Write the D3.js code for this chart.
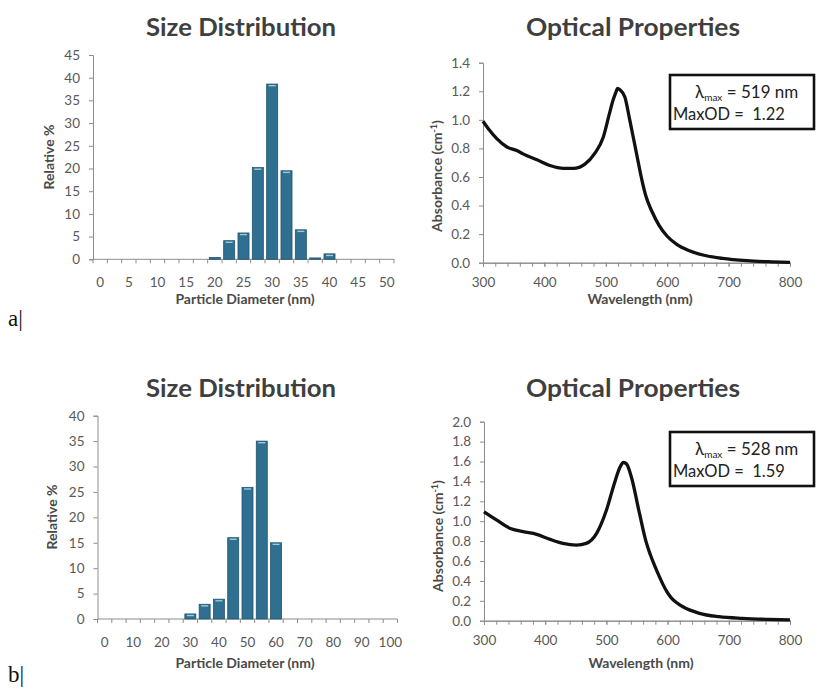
<!DOCTYPE html>
<html>
<head>
<meta charset="utf-8">
<script src="https://cdn.jsdelivr.net/npm/d3@7/dist/d3.min.js"></script>
<style>
  html, body { margin: 0; padding: 0; background: #fff; }
  svg { display: block; }
  .tick text { font-family: Lato, "Open Sans", sans-serif; fill: #595959; }
</style>
</head>
<body>
<svg id="fig" width="817" height="688"></svg>
<script>
// ---- Sample a: size histogram (2.5 nm bins) ----
const sizeBinsA = [0, 2.5, 5, 7.5, 10, 12.5, 15, 17.5, 20, 22.5, 25, 27.5, 30, 32.5, 35, 37.5, 40, 42.5, 45, 47.5, 50];
const relPctA   = [0, 0, 0, 0, 0, 0, 0, 0, 0.4, 4.1, 5.8, 20.2, 38.6, 19.5, 6.5, 0.3, 1.2, 0, 0, 0, 0];
const relTicksA = [0, 5, 10, 15, 20, 25, 30, 35, 40, 45];

// ---- Sample b: size histogram (5 nm bins) ----
const sizeBinsB = [0, 5, 10, 15, 20, 25, 30, 35, 40, 45, 50, 55, 60, 65, 70, 75, 80, 85, 90, 95, 100];
const relPctB   = [0, 0, 0, 0, 0, 0, 1.0, 2.9, 3.9, 16.0, 25.9, 35.0, 15.0, 0, 0, 0, 0, 0, 0, 0, 0];
const relTicksB = [0, 5, 10, 15, 20, 25, 30, 35, 40];

// ---- Sample a: absorbance spectrum ----
const wavelengthA = [300, 310, 322, 339, 355, 366, 388, 409, 431, 447, 466, 482, 496, 506, 512, 517, 519, 523, 531, 539, 550, 560, 565, 575, 587, 600, 615, 635, 660, 690, 730, 770, 800];
const absorbA     = [0.99, 0.93, 0.87, 0.81, 0.785, 0.76, 0.72, 0.68, 0.66, 0.66, 0.69, 0.765, 0.88, 1.045, 1.14, 1.20, 1.22, 1.21, 1.16, 1.0, 0.765, 0.555, 0.47, 0.36, 0.26, 0.185, 0.13, 0.085, 0.052, 0.03, 0.014, 0.006, 0.002];
const absTicksA   = [0, 0.2, 0.4, 0.6, 0.8, 1.0, 1.2, 1.4];

// ---- Sample b: absorbance spectrum ----
const wavelengthB = [300, 321, 342, 364, 386, 408, 429, 451, 467, 484, 500, 513, 522, 528, 533, 541, 554, 565, 572, 579, 586, 592, 599, 606, 615, 625, 652, 684, 722, 766, 800];
const absorbB     = [1.095, 1.01, 0.93, 0.895, 0.868, 0.817, 0.777, 0.76, 0.777, 0.878, 1.11, 1.38, 1.54, 1.59, 1.575, 1.44, 1.08, 0.79, 0.66, 0.55, 0.45, 0.37, 0.29, 0.23, 0.18, 0.14, 0.074, 0.04, 0.023, 0.013, 0.008];
const absTicksB   = [0, 0.2, 0.4, 0.6, 0.8, 1.0, 1.2, 1.4, 1.6, 1.8, 2.0];

const wlLabels = [300, 400, 500, 600, 700, 800];
const wlMinor  = d3.range(300, 801, 20);

const peakA = { lambda: 519, od: 1.22 };
const peakB = { lambda: 528, od: 1.59 };

const svg = d3.select("#fig");
const FONT = "Lato, 'Open Sans', sans-serif";
const AXIS = "#8c8c8c";
const TXT = "#595959";

function styleAxis(g) {
  g.selectAll(".domain").attr("stroke", AXIS).attr("stroke-width", 1);
  g.selectAll(".tick line").attr("stroke", AXIS);
}

function title(text, cx, y, len) {
  svg.append("text").attr("x", cx).attr("y", y)
    .attr("text-anchor", "middle")
    .attr("font-family", FONT).attr("font-weight", 700)
    .attr("font-size", 25).attr("fill", "#3f3f3f")
    .attr("textLength", len).attr("lengthAdjust", "spacingAndGlyphs")
    .text(text);
}

function axisTitle(x, y, rotate) {
  const t = svg.append("text")
    .attr("text-anchor", "middle")
    .attr("font-family", FONT).attr("font-weight", 700)
    .attr("font-size", 14).attr("fill", "#4a4a4a");
  if (rotate) t.attr("transform", `translate(${x},${y}) rotate(-90)`);
  else t.attr("x", x).attr("y", y);
  return t;
}

// Histogram panel drawn on a category axis with ticks between bins
function histogram(cfg) {
  const x = d3.scaleBand().domain(cfg.bins).range([cfg.x0, cfg.x1]).paddingInner(0.23).paddingOuter(0.115);
  const y = d3.scaleLinear().domain([0, cfg.yMax]).range([cfg.yB, cfg.yT]);
  const g = svg.append("g");

  const ya = g.append("g").attr("transform", `translate(${cfg.x0},0)`)
    .call(d3.axisLeft(y).tickValues(cfg.yTicks).tickSize(4).tickPadding(9).tickFormat(d3.format("d")));
  ya.selectAll("text").attr("font-size", 13.5);
  styleAxis(ya);

  // x baseline + boundary ticks
  const n = cfg.bins.length;
  const edge = i => cfg.x0 + i * (cfg.x1 - cfg.x0) / n;
  g.append("line").attr("x1", cfg.x0).attr("x2", cfg.x1).attr("y1", cfg.yB).attr("y2", cfg.yB).attr("stroke", AXIS);
  g.selectAll("line.btick").data(d3.range(n + 1)).join("line")
    .attr("class", "btick")
    .attr("x1", edge).attr("x2", edge)
    .attr("y1", cfg.yB).attr("y2", cfg.yB + 4).attr("stroke", AXIS);

  // labels every other bin
  g.selectAll("text.xl").data(cfg.bins.filter((d, i) => i % 2 === 0)).join("text")
    .attr("class", "xl")
    .attr("x", d => x(d) + x.bandwidth() / 2)
    .attr("y", cfg.yB + 28)
    .attr("text-anchor", "middle")
    .attr("font-family", FONT).attr("font-size", 13.5).attr("fill", TXT)
    .text(d => d);

  const bars = g.selectAll("g.bar").data(cfg.bins.map((b, i) => ({ b, v: cfg.vals[i] })).filter(d => d.v > 0)).join("g");
  bars.append("rect")
    .attr("x", d => x(d.b)).attr("width", x.bandwidth())
    .attr("y", d => y(d.v)).attr("height", d => y(0) - y(d.v))
    .attr("fill", "#2f6f8f").attr("stroke", "#23566f").attr("stroke-width", 0.8);
  bars.append("line")
    .attr("x1", d => x(d.b) + 2).attr("x2", d => x(d.b) + x.bandwidth() - 2)
    .attr("y1", d => y(d.v) + 1.6).attr("y2", d => y(d.v) + 1.6)
    .attr("stroke", "#a9d2e6").attr("stroke-width", 1.4)
    .attr("opacity", d => (y(0) - y(d.v)) > 3 ? 0.9 : 0);
}

// Absorbance spectrum panel with a peak annotation box
function spectrum(cfg) {
  const x = d3.scaleLinear().domain([300, 800]).range([cfg.x0, cfg.x1]);
  const y = d3.scaleLinear().domain([0, cfg.yMax]).range([cfg.yB, cfg.yT]);
  const g = svg.append("g");

  const ya = g.append("g").attr("transform", `translate(${cfg.x0},0)`)
    .call(d3.axisLeft(y).tickValues(cfg.yTicks).tickSize(4).tickPadding(9).tickFormat(d3.format(".1f")));
  ya.selectAll("text").attr("font-size", 13.5);
  styleAxis(ya);

  const xm = g.append("g").attr("transform", `translate(0,${cfg.yB})`)
    .call(d3.axisBottom(x).tickValues(wlMinor).tickSize(4).tickFormat(""));
  styleAxis(xm);
  const xa = g.append("g").attr("transform", `translate(0,${cfg.yB})`)
    .call(d3.axisBottom(x).tickValues(wlLabels).tickSize(4).tickPadding(11));
  xa.selectAll("text").attr("font-size", 13.5);
  styleAxis(xa);

  const line = d3.line().x(d => x(d[0])).y(d => y(d[1])).curve(d3.curveMonotoneX);
  g.append("path").datum(cfg.wl.map((w, i) => [w, cfg.abs[i]]))
    .attr("d", line).attr("fill", "none")
    .attr("stroke", "#111").attr("stroke-width", 3.3).attr("stroke-linejoin", "round");

  // annotation box
  const bx = 670, bw = 144, bh = 54;
  g.append("rect").attr("x", bx).attr("y", cfg.boxTop).attr("width", bw).attr("height", bh)
    .attr("fill", "#fff").attr("stroke", "#111").attr("stroke-width", 2.6);
  const t1 = g.append("text").attr("x", 695).attr("y", cfg.boxTop + 23)
    .attr("font-family", FONT).attr("font-size", 17).attr("fill", "#222");
  t1.append("tspan").text("λ");
  t1.append("tspan").attr("font-size", 10).attr("dy", 3).text("max");
  t1.append("tspan").attr("dy", -3).text(` = ${cfg.peak.lambda} nm`);
  g.append("text").attr("x", 673).attr("y", cfg.boxTop + 45)
    .attr("font-family", FONT).attr("font-size", 16.5).attr("fill", "#222")
    .attr("xml:space", "preserve")
    .text(`MaxOD =  ${cfg.peak.od.toFixed(2)}`);
}

function absorbanceTitle(x, y) {
  const t = axisTitle(x, y, true);
  t.append("tspan").text("Absorbance (cm");
  t.append("tspan").attr("font-size", 9).attr("dy", -5).text("-1");
  t.append("tspan").attr("dy", 5).text(")");
}

// ---- Row a ----
title("Size Distribution", 241, 36, 190);
title("Optical Properties", 633, 36, 214);
histogram({ bins: sizeBinsA, vals: relPctA, yMax: 45, yTicks: relTicksA, x0: 93, x1: 394, yT: 55, yB: 259.3 });
axisTitle(54, 157, true).text("Relative %");
axisTitle(245, 304, false).text("Particle Diameter (nm)");
spectrum({ wl: wavelengthA, abs: absorbA, yMax: 1.4, yTicks: absTicksA, x0: 483, x1: 790, yT: 62.7, yB: 262.7, boxTop: 75, peak: peakA });
absorbanceTitle(442, 176);
axisTitle(640, 304, false).text("Wavelength (nm)");

// ---- Row b ----
title("Size Distribution", 241, 397, 190);
title("Optical Properties", 633, 397, 214);
histogram({ bins: sizeBinsB, vals: relPctB, yMax: 40, yTicks: relTicksB, x0: 97.5, x1: 397.5, yT: 415.7, yB: 619 });
axisTitle(57, 517, true).text("Relative %");
axisTitle(245, 668, false).text("Particle Diameter (nm)");
spectrum({ wl: wavelengthB, abs: absorbB, yMax: 2.0, yTicks: absTicksB, x0: 484, x1: 790, yT: 421.7, yB: 620.7, boxTop: 432, peak: peakB });
absorbanceTitle(443, 536);
axisTitle(641, 668, false).text("Wavelength (nm)");

// panel letters
svg.append("text").attr("x", 8).attr("y", 326).attr("font-family", "'Liberation Serif', serif").attr("font-size", 23).attr("fill", "#111").text("a|");
svg.append("text").attr("x", 8).attr("y", 682).attr("font-family", "'Liberation Serif', serif").attr("font-size", 23).attr("fill", "#111").text("b|");
</script>
</body>
</html>
